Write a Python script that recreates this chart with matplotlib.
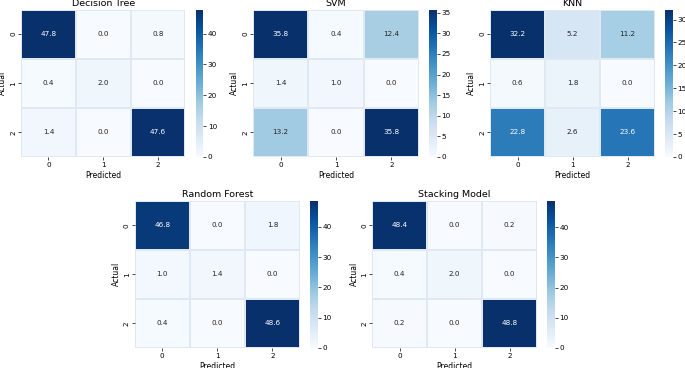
import numpy as np
import matplotlib
matplotlib.use("Agg")
import matplotlib.pyplot as plt
import seaborn as sns

# confusion matrices (averaged over folds), rows = actual, cols = predicted
classes = ["0", "1", "2"]
cm_tree = [[47.8, 0.0, 0.8], [0.4, 2.0, 0.0], [1.4, 0.0, 47.6]]
cm_svm = [[35.8, 0.4, 12.4], [1.4, 1.0, 0.0], [13.2, 0.0, 35.8]]
cm_knn = [[32.2, 5.2, 11.2], [0.6, 1.8, 0.0], [22.8, 2.6, 23.6]]
cm_rf = [[46.8, 0.0, 1.8], [1.0, 1.4, 0.0], [0.4, 0.0, 48.6]]
cm_stack = [[48.4, 0.0, 0.2], [0.4, 2.0, 0.0], [0.2, 0.0, 48.8]]

models = ["Decision Tree", "SVM", "KNN", "Random Forest", "Stacking Model"]
matrices = [cm_tree, cm_svm, cm_knn, cm_rf, cm_stack]

W, H = 685, 368
fig = plt.figure(figsize=(W / 100, H / 100), dpi=100)

# pixel boxes (left, top, right, bottom) of each heatmap
boxes = [(21, 9.5, 185.5, 157), (253, 9.5, 419, 157), (490, 9.5, 655, 157),
         (134.7, 200.7, 300, 348), (372.3, 200.7, 537, 348)]

def frac(l, t, r, b):
    return [l / W, 1 - b / H, (r - l) / W, (b - t) / H]

for name, cm, (l, t, r, b) in zip(models, matrices, boxes):
    ax = fig.add_axes(frac(l, t, r, b))
    cax = fig.add_axes(frac(r + 10, t, r + 17.5, b))
    sns.heatmap(np.array(cm), annot=True, fmt=".1f", cmap="Blues",
                xticklabels=classes, yticklabels=classes,
                linewidths=0.15, linecolor="#dfe8f3",
                annot_kws={"size": 5.2}, ax=ax, cbar_ax=cax)
    ax.set_title(name, fontsize=6.8, pad=2.5)
    ax.set_xlabel("Predicted", fontsize=5.5, labelpad=2)
    ax.set_ylabel("Actual", fontsize=5.5, labelpad=2)
    ax.tick_params(labelsize=5.2, length=2, width=0.5, pad=1.5)
    for lab in ax.get_yticklabels():
        lab.set_rotation(90)
        lab.set_va("center")
    cax.tick_params(labelsize=5.2, length=2, width=0.5, pad=1.5)

fig.savefig("out.png", dpi=100)
